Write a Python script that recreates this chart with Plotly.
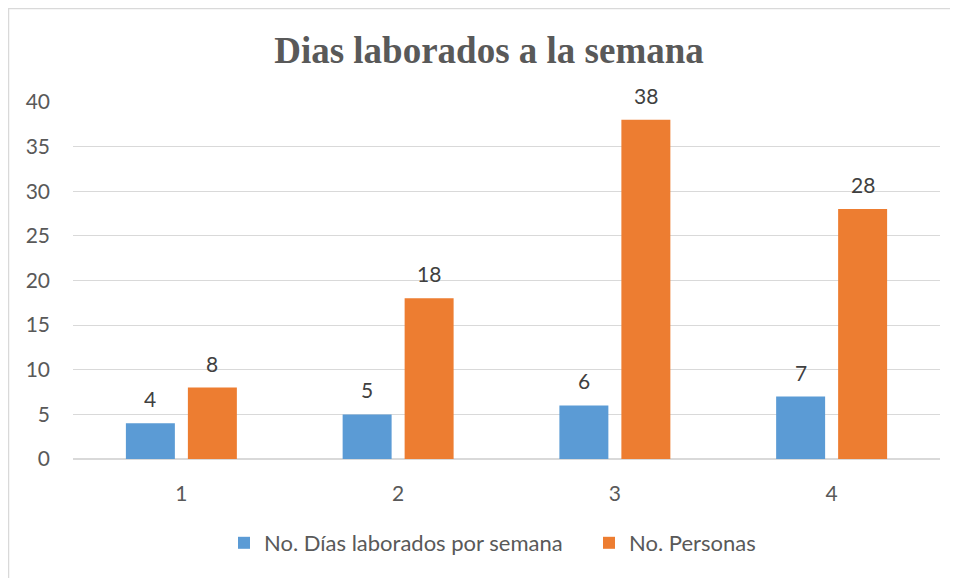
import plotly.graph_objects as go

categories = ["1", "2", "3", "4"]
dias = [4, 5, 6, 7]
personas = [8, 18, 38, 28]
series_names = ["No. Días laborados por semana", "No. Personas"]
colors = ["#5B9BD5", "#ED7D31"]
y_ticks = [0, 5, 10, 15, 20, 25, 30, 35, 40]

# page has an 8px body margin: figure origin sits at page (8, 8)
OFF = 8
W, H = 950, 570
ML, MR, MT, MB = 73 - OFF, 18, 102 - OFF, 119
plot_w = W - ML - MR
plot_h = H - MT - MB
bargap = 0.428
cat_w = plot_w / len(categories)
slot = (1 - bargap) * cat_w / 2

font_family = "Lato, 'Open Sans', sans-serif"
FS = 21

fig = go.Figure()
for name, vals, col in zip(series_names, [dias, personas], colors):
    fig.add_trace(go.Bar(x=categories, y=vals, name=name,
                         marker=dict(color=col, line=dict(width=0))))

annotations = []
for i, vals in enumerate([dias, personas]):
    for ci, v in enumerate(vals):
        annotations.append(dict(x=ci, y=v, xref="x", yref="y", text=str(v),
                                showarrow=False, yanchor="bottom",
                                xshift=(i - 0.5) * slot, yshift=10,
                                font=dict(family=font_family, size=FS, color="#404040")))

border = "#D9D9D9"
px = lambda X: (X - OFF - ML) / plot_w          # page x -> paper
py = lambda Y: (H - MB - (Y - OFF)) / plot_h    # page y -> paper
shapes = [
    dict(type="line", xref="paper", yref="paper", x0=px(OFF), x1=px(OFF + W), y0=py(OFF + 0.5), y1=py(OFF + 0.5),
         line=dict(color=border, width=1.5)),
    dict(type="line", xref="paper", yref="paper", x0=px(OFF + 0.5), x1=px(OFF + 0.5), y0=py(OFF), y1=py(OFF + H),
         line=dict(color=border, width=1.5)),
]

fig.update_layout(
    width=W, height=H,
    margin=dict(l=ML, r=MR, t=MT, b=MB, autoexpand=False),
    paper_bgcolor="white", plot_bgcolor="white",
    barmode="group", bargap=bargap, bargroupgap=0.21,
    title=dict(text="<b>Dias laborados a la semana</b>",
               font=dict(family="'Liberation Serif', 'Times New Roman', serif", size=37, color="#595959"),
               x=px(489), xref="paper", xanchor="center",
               y=1 - (50 - OFF) / H, yref="container", yanchor="middle"),
    xaxis=dict(range=[-0.5, len(categories) - 0.5], showgrid=False, showline=False, zeroline=False,
               ticks="", ticklabelstandoff=20,
               tickfont=dict(family=font_family, size=FS, color="#595959")),
    yaxis=dict(range=[0, 40], tickvals=y_ticks, showgrid=True, gridcolor="#D9D9D9", gridwidth=1,
               zeroline=True, zerolinecolor="#D9D9D9", zerolinewidth=1.5, showline=False,
               ticks="", ticklabelstandoff=22,
               tickfont=dict(family=font_family, size=FS, color="#595959")),
    legend=dict(orientation="h", x=px(224), xanchor="left", y=py(543), yanchor="middle",
                font=dict(family=font_family, size=22, color="#595959"),
                entrywidth=320, traceorder="normal"),
    annotations=annotations,
    shapes=shapes,
)

fig.write_html("out.html")
